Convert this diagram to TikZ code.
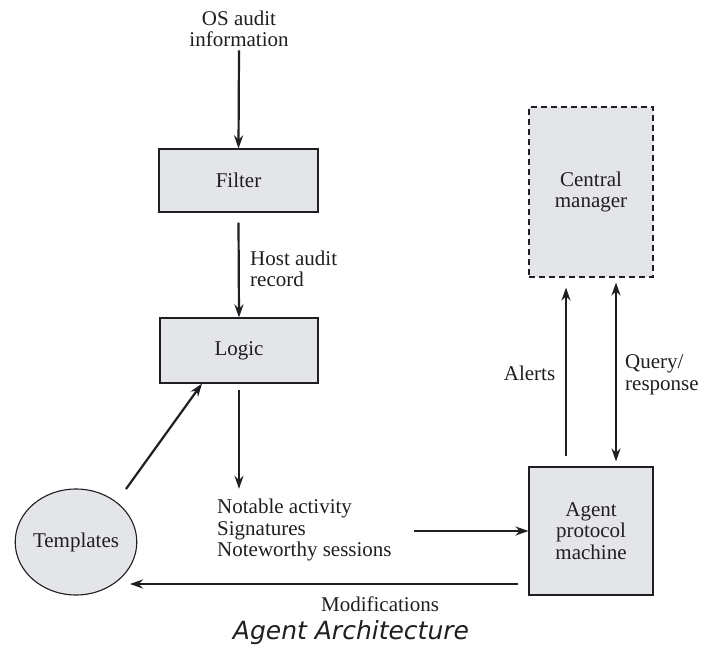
\documentclass[tikz,border=0pt]{standalone}
\usepackage{fontspec}
\setmainfont{Liberation Serif}
\newfontfamily\capfont{DejaVu Sans}
\usetikzlibrary{arrows.meta,calc,shapes.geometric}
\definecolor{boxfill}{RGB}{228,229,232}
\definecolor{ink}{RGB}{30,30,35}
\tikzset{
  txt/.style={font=\fontsize{21}{21.5}\selectfont, text=ink, inner sep=0pt, align=center},
  blk/.style={draw=ink, line width=1.1pt, fill=boxfill, txt},
  arr/.style={draw=ink, line width=2.2pt, -{Stealth[length=13pt,width=9pt]}},
  darr/.style={draw=ink, line width=2.2pt, {Stealth[length=13pt,width=9pt]}-{Stealth[length=13pt,width=9pt]}},
}
\begin{document}
\begin{tikzpicture}[x=1pt,y=-1pt]
\path[use as bounding box] (0,0) rectangle (703,652);
\node[txt] (os) at (239,29) {OS audit\\information};
\node[blk, minimum width=159pt, minimum height=63pt] (filter) at (238.5,180.5) {Filter};
\node[blk, minimum width=158pt, minimum height=65pt] (logic) at (239,350.5) {Logic};
\node[txt, align=left, anchor=west] (host) at (250,269) {Host audit\\record};
\node[txt, align=left, anchor=west] (notable) at (217,530) {Notable activity\\Signatures\\Noteworthy sessions};
\node[ellipse, blk, minimum width=120pt, minimum height=106pt] (templates) at (76,542) {Templates};
\node[blk, dashed, dash pattern=on 6pt off 4pt, minimum width=124pt, minimum height=170pt] (central) at (591,192) {Central\\manager};
\node[blk, minimum width=124pt, minimum height=128pt] (agent) at (591,531) {Agent\\protocol\\machine};
\node[txt] (alerts) at (529.5,373) {Alerts};
\node[txt, align=left, anchor=west] (query) at (625,375) {Query/\\response};
\node[txt] (modif) at (380,604) {Modifications};
\node[font=\capfont\itshape\fontsize{25}{28}\selectfont, text=ink, inner sep=0pt] (caption) at (351,633) {Agent Architecture};

\draw[arr] ($(os.south)+(0,3)$) -- (filter.north);
\draw[arr] ($(filter.south)+(0,10)$) -- (logic.north);
\draw[arr] ($(logic.south)+(0,6)$) -- ($(logic.south |- notable.north)+(0,-10)$);
\draw[arr] ($(templates.center)+(50,-53)$) -- ($(logic.south)+(-37,0)$);
\draw[arr] ($(agent.west)+(-114,0)$) -- (agent.west);
\draw[arr] ($(agent.west)+(-10,53)$) -- ($(templates.center)+(54,42)$);
\draw[arr] ($(agent.north)+(-25,-10)$) -- ($(central.south)+(-25,10)$);
\draw[darr] ($(agent.north)+(25,-5)$) -- ($(central.south)+(25,5)$);
\end{tikzpicture}
\end{document}
